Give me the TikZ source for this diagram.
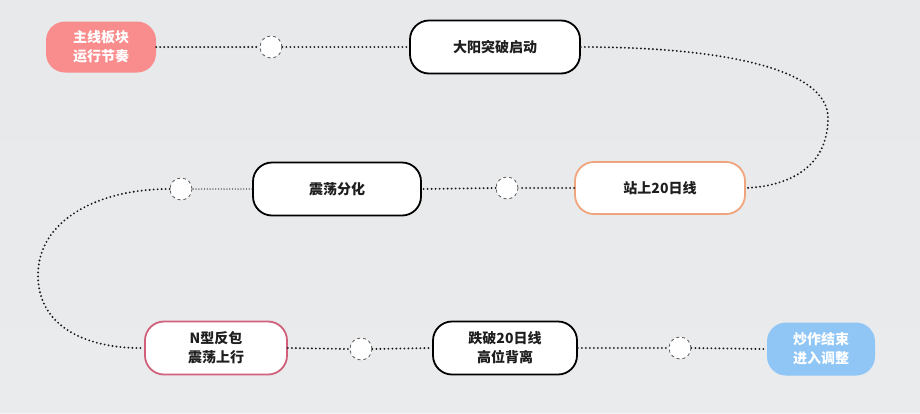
\documentclass[tikz,border=0pt]{standalone}
\usepackage{fontspec}
\setmainfont{Noto Sans CJK SC}
\definecolor{bgc}{HTML}{E7E9EB}
\definecolor{startc}{HTML}{F98C8C}
\definecolor{endc}{HTML}{8FC6F6}
\definecolor{orangec}{HTML}{F0A47E}
\definecolor{pinkc}{HTML}{D0607C}
\definecolor{textc}{HTML}{1E1E1E}
\begin{document}
\begin{tikzpicture}[x=1pt,y=-1pt,
  stepbox/.style={draw=black,line width=1.8pt,fill=white,rounded corners=19pt,
    minimum height=53pt,align=center,text=textc,
    font=\fontsize{14}{19}\selectfont\bfseries,inner sep=0pt},
  fillbox/.style={draw=none,rounded corners=19pt,minimum height=51pt,align=center,
    text=white,font=\fontsize{14}{19}\selectfont\bfseries,inner sep=0pt},
  dot/.style={circle,draw=black!65,dashed,line width=0.8pt,fill=white,minimum size=22pt,inner sep=0pt},
  dotline/.style={line width=2.1pt,dash pattern=on 0pt off 4pt,line cap=round,black!90}]
\fill[bgc] (0,0) rectangle (920,413);
\shade[top color=bgc,bottom color=bgc!80!white,opacity=0.6] (0,0) rectangle (920,413);
\useasboundingbox (0,0) rectangle (920,413);

\node[fillbox,fill=startc,minimum width=110pt] (s) at (101,47) {主线板块\\运行节奏};
\node[dot] (c1) at (271,47) {};
\node[stepbox,minimum width=170pt] (a) at (495,47) {大阳突破启动};
\node[stepbox,draw=orangec,minimum width=170pt,minimum height=52pt] (b) at (660,188) {站上20日线};
\node[dot] (c2) at (507,188) {};
\node[stepbox,minimum width=168pt] (c) at (337,189) {震荡分化};
\node[dot] (c3) at (181,189) {};
\node[stepbox,draw=pinkc,minimum width=142pt] (d) at (216,348) {N型反包\\震荡上行};
\node[dot] (c4) at (361,349) {};
\node[stepbox,minimum width=144pt] (e) at (505,348) {跌破20日线\\高位背离};
\node[dot] (c5) at (680,348) {};
\node[fillbox,fill=endc,minimum width=108pt,minimum height=53pt] (f) at (821,349) {炒作结束\\进入调整};

\draw[dotline] (s.east) -- (c1.west);
\draw[dotline] (c1.east) -- (a.west);
\draw[dotline] (a.east) .. controls (720,47) and (828,68) .. (828,118)
  .. controls (828,165) and (792,186) .. (b.east);
\draw[dotline] (b.west) -- (c2.east);
\draw[dotline] (c2.west) -- (c.east);
\draw[dotline,line width=1.3pt,dash pattern=on 0pt off 2.8pt] (c.west) -- (c3.east);
\draw[dotline] (c3.west) .. controls (95,189) and (38,222) .. (38,275)
  .. controls (38,330) and (92,349) .. (d.west);
\draw[dotline] (d.east) -- (c4.west);
\draw[dotline] (c4.east) -- (e.west);
\draw[dotline] (e.east) -- (c5.west);
\draw[dotline] (c5.east) -- (f.west);
\end{tikzpicture}
\end{document}
